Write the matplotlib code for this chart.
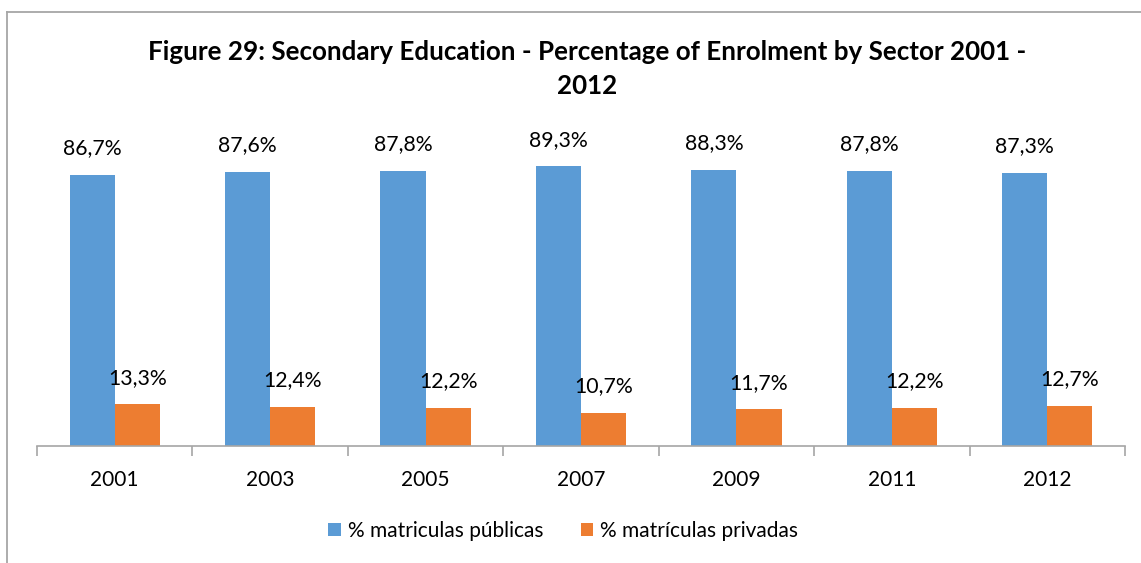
import matplotlib.pyplot as plt
import numpy as np
from matplotlib.lines import Line2D

years = ["2001", "2003", "2005", "2007", "2009", "2011", "2012"]
publicas = [86.7, 87.6, 87.8, 89.3, 88.3, 87.8, 87.3]
privadas = [13.3, 12.4, 12.2, 10.7, 11.7, 12.2, 12.7]

blue = "#5B9BD5"
orange = "#ED7D31"
plt.rcParams['font.family'] = ['Lato', 'DejaVu Sans']

fig = plt.figure(figsize=(11.41, 5.63), dpi=100)
W, H = 1141, 563
ax = fig.add_axes([37 / W, (H - 446) / H, (1125 - 37) / W, (446 - 133) / H])

x = np.arange(len(years))
w = 0.29
b1 = ax.bar(x - w / 2, publicas, w, color=blue, label="% matriculas públicas")
b2 = ax.bar(x + w / 2, privadas, w, color=orange, label="% matrículas privadas")

for bars, vals in ((b1, publicas), (b2, privadas)):
    for r, v in zip(bars, vals):
        ax.annotate(f"{v:.1f}%".replace(".", ","),
                    (r.get_x() + r.get_width() / 2, v),
                    xytext=(0, 12), textcoords="offset points",
                    ha="center", va="bottom", fontsize=15.3, color="black")

ax.set_xlim(-0.5, len(years) - 0.5)
ax.set_ylim(0, 100)
ax.set_yticks([])
for s in ("top", "right", "left"):
    ax.spines[s].set_visible(False)
ax.spines["bottom"].set_color("#A6A6A6")
ax.spines["bottom"].set_linewidth(1.2)

ax.set_xticks(np.arange(len(years) + 1) - 0.5, minor=False)
ax.set_xticklabels([])
ax.tick_params(axis="x", which="major", length=7, color="#A6A6A6", width=1.2)
ax.set_xticks(x, minor=True)
ax.set_xticklabels(years, minor=True, fontsize=15)
ax.tick_params(axis="x", which="minor", length=0, pad=17)

fig.text(0.515, 1 - 52 / H, "Figure 29: Secondary Education - Percentage of Enrolment by Sector 2001 -",
         ha="center", va="center", fontsize=18.7, fontweight="bold")
fig.text(0.515, 1 - 86 / H, "2012", ha="center", va="center",
         fontsize=18.7, fontweight="bold")

fig.legend(handles=[b1, b2], loc="center", bbox_to_anchor=(563 / W, 1 - 531 / H),
           ncol=2, frameon=False, fontsize=15, handlelength=0.62, handleheight=0.62,
           handletextpad=0.3, columnspacing=1.8)

# chart area border
fig.add_artist(Line2D([7 / W, 7 / W], [0, 1 - 12 / H], color="#A6A6A6", lw=1.3))
fig.add_artist(Line2D([7 / W, 1], [1 - 12 / H, 1 - 12 / H], color="#A6A6A6", lw=1.3))

fig.savefig("out.png", dpi=100)
